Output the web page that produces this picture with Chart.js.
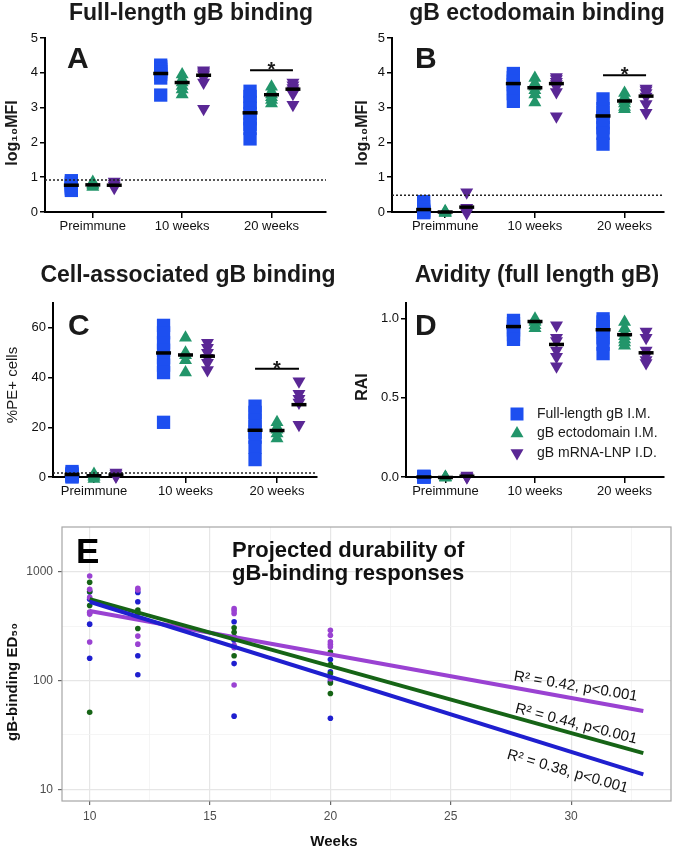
<!DOCTYPE html>
<html>
<head>
<meta charset="utf-8">
<script src="https://cdn.jsdelivr.net/npm/chart.js@4.4.1/dist/chart.umd.min.js"></script>
<style>
  body { margin: 0; background: #fff; width: 675px; height: 849px; position: relative; overflow: hidden; }
  canvas { position: absolute; }
</style>
</head>
<body>
<canvas id="cA" width="337" height="240" style="left:0;top:0"></canvas>
<canvas id="cB" width="338" height="240" style="left:337px;top:0"></canvas>
<canvas id="cC" width="337" height="260" style="left:0;top:240px"></canvas>
<canvas id="cD" width="338" height="260" style="left:337px;top:240px"></canvas>
<canvas id="cE" width="675" height="349" style="left:0;top:500px"></canvas>
<script>
const FONT = '"Liberation Sans", Arial, Helvetica, sans-serif';
Chart.defaults.font.family = FONT;

// shared categories / series
const groups = ["Preimmune", "10 weeks", "20 weeks"];
const seriesNames = ["Full-length gB I.M.", "gB ectodomain I.M.", "gB mRNA-LNP I.D."];
const dotColors = ["#1d4ff0", "#22956a", "#5a2795"];
const offsets = [-0.24, 0, 0.24];

// A: full-length gB binding (log10 MFI), per group: preimmune, 10 wk, 20 wk
const aFull = [[0.9, 0.85, 0.8, 0.76, 0.72, 0.67, 0.62], [4.22, 4.17, 4.1, 4.03, 3.96, 3.85, 3.36], [3.47, 3.32, 3.15, 2.98, 2.83, 2.68, 2.52, 2.4, 2.1]];
const aEcto = [[0.86, 0.8, 0.76, 0.72], [3.95, 3.82, 3.72, 3.62, 3.52, 3.38], [3.6, 3.46, 3.38, 3.3, 3.22, 3.12]];
const aMrna = [[0.88, 0.82, 0.76, 0.7], [4.07, 4.04, 3.99, 3.94, 3.86, 3.72, 2.97], [3.72, 3.64, 3.56, 3.5, 3.4, 3.08]];
const aMeans = [[0.77, 3.98, 2.85], [0.78, 3.72, 3.37], [0.77, 3.93, 3.53]];
const aCutoff = 0.92;
const aSig = 4.07;

// B: gB ectodomain binding
const bFull = [[0.3, 0.15, 0.05, 0, 0, -0.02], [3.98, 3.86, 3.76, 3.66, 3.55, 3.4, 3.18], [3.25, 2.97, 2.86, 2.72, 2.56, 2.42, 2.26, 1.95]];
const bEcto = [[0.02, 0, -0.02, -0.03], [3.85, 3.7, 3.6, 3.5, 3.38, 3.15], [3.42, 3.3, 3.2, 3.12, 3.02, 2.95]];
const bMrna = [[0.57, 0.12, 0.02, -0.03], [3.88, 3.82, 3.74, 3.68, 3.6, 3.45, 2.75], [3.55, 3.5, 3.42, 3.32, 3.1, 2.85]];
const bMeans = [[0.07, 3.69, 2.76], [0, 3.57, 3.19], [0.14, 3.69, 3.33]];
const bCutoff = 0.48;
const bSig = 3.93;

// C: cell-associated gB binding (%PE+ cells)
const cFull = [[2.2, 1.5, 1, 0.6, 0.3, 0], [61, 58, 54, 51, 48, 45, 42, 22], [28.5, 26, 23, 20.5, 18, 16, 12, 7]];
const cEcto = [[1.2, 0.5, 0, -0.8], [56, 50, 49, 47, 42], [22, 20, 19, 17.5, 15.5]];
const cMrna = [[1.8, 1.2, 0.5, 0.2], [54, 52, 50, 48, 46, 43], [38.5, 33.5, 31.5, 30, 21]];
const cMeans = [[1, 49.9, 18.8], [0.5, 49.1, 18.7], [0.8, 48.6, 29.1]];
const cCutoff = 1.6;
const cSig = 43.5;

// D: avidity (RAI)
const dFull = [[0.005, 0, 0, 0], [0.99, 0.97, 0.95, 0.93, 0.9, 0.87], [1.0, 0.98, 0.95, 0.92, 0.88, 0.84, 0.78]];
const dEcto = [[0, 0, -0.005], [1.0, 0.99, 0.98, 0.96, 0.94], [0.98, 0.94, 0.91, 0.89, 0.87, 0.85, 0.83]];
const dMrna = [[0.01, 0, 0], [0.96, 0.88, 0.86, 0.8, 0.76, 0.7], [0.92, 0.88, 0.8, 0.77, 0.74, 0.72]];
const dMeans = [[0, 0.951, 0.931], [-0.003, 0.983, 0.9], [0.005, 0.838, 0.785]];

// E: projected durability (ED50 by week)
const eWeeks = [10, 12, 16, 20];
const eFull = [[650, 560, 330, 160], [646, 530, 169, 113], [347, 235, 143, 47], [156, 120, 98, 45]];
const eEcto = [[800, 660, 490, 420, 51], [444, 420, 301], [305, 278, 252, 169], [183, 140, 116, 95, 76]];
const eMrna = [[913, 689, 581, 427, 408, 226], [703, 680, 256, 216], [460, 440, 414, 211, 200, 91], [290, 261, 227, 215, 204, 104]];
const eFitWeeks = [10, 33];
const eFitFull = [530, 13.7];
const eFitEcto = [561, 21.5];
const eFitMrna = [435, 52.5];
const eFitLabels = ["R² = 0.38, p<0.001", "R² = 0.44, p<0.001", "R² = 0.42, p<0.001"];
const eGridWeeks = [10, 12.5, 15, 17.5, 20, 22.5, 25, 27.5, 30, 32.5];
const eGridEd50 = [10, 31.6228, 100, 316.228, 1000];

function drawText(ctx, str, x, y, font, opts = {}) {
  ctx.save();
  ctx.font = font;
  ctx.fillStyle = opts.color || "#1a1a1a";
  ctx.textAlign = opts.align || "left";
  ctx.textBaseline = opts.baseline || "alphabetic";
  ctx.translate(x, y);
  if (opts.rotate) ctx.rotate(opts.rotate);
  ctx.fillText(str, 0, 0);
  ctx.restore();
}

function marker(ctx, s, x, y) {
  ctx.save();
  ctx.fillStyle = dotColors[s];
  ctx.beginPath();
  if (s === 0) {
    ctx.rect(x - 6.5, y - 6.5, 13, 13);
  } else if (s === 1) {
    ctx.moveTo(x, y - 7.5); ctx.lineTo(x + 6.5, y + 3.75); ctx.lineTo(x - 6.5, y + 3.75);
  } else {
    ctx.moveTo(x, y + 7.5); ctx.lineTo(x + 6.5, y - 3.75); ctx.lineTo(x - 6.5, y - 3.75);
  }
  ctx.fill();
  ctx.restore();
}

function dotPanel(id, spec) {
  const datasets = [];
  datasets.push({
    data: spec.means.flatMap((m, s) => m.map((v, g) => ({ x: g + offsets[s], y: v }))),
    pointStyle: "line", radius: 7.5, borderWidth: 3.5, borderColor: "#000", clip: false
  });
  if (spec.sig != null) {
    datasets.push({
      data: [{ x: 2 + offsets[0], y: spec.sig }, { x: 2 + offsets[2], y: spec.sig }],
      showLine: true, borderColor: "#000", borderWidth: 2, pointRadius: 0
    });
  }
  if (spec.cutoff != null) {
    datasets.push({
      data: [{ x: spec.xMin, y: spec.cutoff }, { x: spec.xMax, y: spec.cutoff }],
      showLine: true, borderColor: "#222", borderWidth: 1.5, borderDash: [2, 2], pointRadius: 0
    });
  }
  [2, 1, 0].forEach(s => {
    datasets.push({
      label: seriesNames[s],
      data: spec.series[s].flatMap((vals, g) => vals.map(v => ({ x: g + offsets[s], y: v }))),
      pointStyle: s === 0 ? "rect" : "triangle",
      rotation: s === 2 ? 180 : 0,
      radius: s === 0 ? 9.4 : 7.5,
      backgroundColor: dotColors[s], borderWidth: 0, clip: false
    });
  });

  new Chart(document.getElementById(id), {
    type: "scatter",
    data: { datasets },
    options: {
      responsive: false, animation: false, events: [],
      layout: { padding: spec.pad },
      plugins: { legend: { display: false }, tooltip: { enabled: false } },
      scales: {
        x: {
          type: "linear", min: spec.xMin, max: spec.xMax,
          afterBuildTicks: s => { s.ticks = [0, 1, 2].map(v => ({ value: v })); },
          afterFit: s => { s.height = 22; },
          ticks: { callback: v => groups[v], color: "#111", font: { size: 13 }, padding: 1, autoSkip: false, maxRotation: 0 },
          grid: { drawOnChartArea: false, tickLength: 6, color: "#000", lineWidth: 1.5 },
          border: { color: "#000", width: 2 }
        },
        y: {
          min: spec.yMin, max: spec.yMax,
          afterBuildTicks: s => { s.ticks = spec.yTicks.map(v => ({ value: v })); },
          afterFit: s => { s.width = 40; },
          ticks: { callback: spec.fmt, color: "#111", font: { size: 13 }, padding: 2 },
          grid: { drawOnChartArea: false, tickLength: 5, color: "#000", lineWidth: 1.5 },
          border: { color: "#000", width: 2 }
        }
      }
    },
    plugins: [{
      id: "deco",
      afterDraw(chart) {
        const ctx = chart.ctx;
        const t = spec.text;
        drawText(ctx, t.title[0], t.title[1], t.title[2], "bold 23px " + FONT, { align: "center" });
        drawText(ctx, t.letter[0], t.letter[1], t.letter[2], "bold 30px " + FONT);
        drawText(ctx, t.yTitle[0], t.yTitle[1], t.yTitle[2], t.yTitle[3] + " " + FONT,
          { align: "center", baseline: "middle", rotate: -Math.PI / 2 });
        if (spec.sig != null) {
          const x = chart.scales.x.getPixelForValue(2);
          const y = chart.scales.y.getPixelForValue(spec.sig);
          drawText(ctx, "*", x, y + 6, "bold 20px " + FONT, { align: "center" });
        }
        if (spec.legend) {
          const [lx, ly, gap] = spec.legend;
          seriesNames.forEach((name, s) => {
            marker(ctx, s, lx, ly + s * gap);
            drawText(ctx, name, lx + 20, ly + s * gap, "14px " + FONT, { baseline: "middle" });
          });
        }
      }
    }]
  });
}

dotPanel("cA", {
  series: [aFull, aEcto, aMrna], means: aMeans, cutoff: aCutoff, sig: aSig,
  xMin: -0.535, xMax: 2.61, yMin: 0, yMax: 5, yTicks: [0, 1, 2, 3, 4, 5], fmt: v => String(v),
  pad: { left: 5, right: 4, top: 38, bottom: 6 },
  text: { title: ["Full-length gB binding", 191, 20], letter: ["A", 67, 68], yTitle: ["log₁₀MFI", 13, 133, "bold 16px"] }
});

dotPanel("cB", {
  series: [bFull, bEcto, bMrna], means: bMeans, cutoff: bCutoff, sig: bSig,
  xMin: -0.593, xMax: 2.44, yMin: 0, yMax: 5, yTicks: [0, 1, 2, 3, 4, 5], fmt: v => String(v),
  pad: { left: 15, right: 7, top: 38, bottom: 6 },
  text: { title: ["gB ectodomain binding", 200, 20], letter: ["B", 78, 68], yTitle: ["log₁₀MFI", 26, 133, "bold 16px"] }
});

dotPanel("cC", {
  series: [cFull, cEcto, cMrna], means: cMeans, cutoff: cCutoff, sig: cSig,
  xMin: -0.448, xMax: 2.437, yMin: 0, yMax: 70, yTicks: [0, 20, 40, 60], fmt: v => String(v),
  pad: { left: 13, right: 20, top: 63, bottom: 1 },
  text: { title: ["Cell-associated gB binding", 188, 42], letter: ["C", 68, 95], yTitle: ["%PE+ cells", 13, 145, "15px"] }
});

dotPanel("cD", {
  series: [dFull, dEcto, dMrna], means: dMeans,
  xMin: -0.44, xMax: 2.44, yMin: 0, yMax: 1.1, yTicks: [0, 0.5, 1], fmt: v => v.toFixed(1),
  pad: { left: 29, right: 7, top: 63, bottom: 1 },
  legend: [180, 174, 19.5],
  text: { title: ["Avidity (full length gB)", 200, 42], letter: ["D", 78, 95], yTitle: ["RAI", 26, 147, "bold 16px"] }
});

// Panel E
const eColors = ["#1f1fcf", "#166416", "#9a42d2"];
const eSeries = [eFull, eEcto, eMrna];
const eFits = [eFitFull, eFitEcto, eFitMrna];
const eDatasets = [];
eFits.forEach((fit, s) => {
  eDatasets.push({
    data: eFitWeeks.map((w, i) => ({ x: w, y: fit[i] })),
    showLine: true, borderColor: eColors[s], borderWidth: 4, pointRadius: 0
  });
});
[2, 1, 0].forEach(s => {
  eDatasets.push({
    data: eSeries[s].flatMap((vals, i) => vals.map(v => ({ x: eWeeks[i], y: v }))),
    pointStyle: "circle", radius: 2.8, backgroundColor: eColors[s], borderWidth: 0
  });
});

new Chart(document.getElementById("cE"), {
  type: "scatter",
  data: { datasets: eDatasets },
  options: {
    responsive: false, animation: false, events: [],
    layout: { padding: { left: 4, right: 4, top: 27, bottom: 18 } },
    plugins: { legend: { display: false }, tooltip: { enabled: false } },
    scales: {
      x: {
        type: "linear", min: 8.85, max: 34.15,
        afterBuildTicks: s => { s.ticks = eGridWeeks.map(v => ({ value: v })); },
        afterFit: s => { s.height = 30; },
        ticks: { callback: v => (v % 5 === 0 ? String(v) : ""), color: "#4d4d4d", font: { size: 12 }, padding: 4, autoSkip: false, maxRotation: 0 },
        grid: {
          color: c => (c.tick && c.tick.value % 5 === 0 ? "#e6e6e6" : "#f3f3f3"),
          lineWidth: c => (c.tick && c.tick.value % 5 === 0 ? 1.2 : 0.8),
          tickColor: c => (c.tick && c.tick.value % 5 === 0 ? "#666" : "rgba(0,0,0,0)"),
          tickLength: 4
        },
        border: { display: false }
      },
      y: {
        type: "logarithmic", min: 7.8, max: 2580,
        afterBuildTicks: s => { s.ticks = eGridEd50.map(v => ({ value: v })); },
        afterFit: s => { s.width = 58; },
        ticks: { callback: v => ([10, 100, 1000].includes(v) ? String(v) : ""), color: "#4d4d4d", font: { size: 12 }, padding: 5, autoSkip: false },
        grid: {
          color: c => (c.tick && [10, 100, 1000].includes(c.tick.value) ? "#e6e6e6" : "#f3f3f3"),
          lineWidth: c => (c.tick && [10, 100, 1000].includes(c.tick.value) ? 1.2 : 0.8),
          tickColor: c => (c.tick && [10, 100, 1000].includes(c.tick.value) ? "#666" : "rgba(0,0,0,0)"),
          tickLength: 4
        },
        border: { display: false }
      }
    }
  },
  plugins: [{
    id: "decoE",
    afterDraw(chart) {
      const ctx = chart.ctx;
      const a = chart.chartArea;
      ctx.save();
      ctx.strokeStyle = "#a6a6a6";
      ctx.lineWidth = 1.2;
      ctx.strokeRect(a.left, a.top, a.right - a.left, a.bottom - a.top);
      ctx.restore();
      drawText(ctx, "E", 76, 63, "bold 35px " + FONT, { color: "#000" });
      drawText(ctx, "Projected durability of", 232, 57, "bold 22px " + FONT, { color: "#111" });
      drawText(ctx, "gB-binding responses", 232, 80, "bold 22px " + FONT, { color: "#111" });
      drawText(ctx, "gB-binding ED₅₀", 13, 182, "bold 15px " + FONT, { align: "center", baseline: "middle", rotate: -Math.PI / 2, color: "#111" });
      drawText(ctx, "Weeks", 334, 346, "bold 15px " + FONT, { align: "center", color: "#111" });
      const xs = chart.scales.x, ys = chart.scales.y;
      const shift = [20, -10, -12];
      eFits.forEach((fit, s) => {
        const x1 = xs.getPixelForValue(eFitWeeks[0]), y1 = ys.getPixelForValue(fit[0]);
        const x2 = xs.getPixelForValue(eFitWeeks[1]), y2 = ys.getPixelForValue(fit[1]);
        const ang = Math.atan2(y2 - y1, x2 - x1);
        const px = xs.getPixelForValue(30.1);
        const py = y1 + (y2 - y1) * (px - x1) / (x2 - x1);
        const cx = px - Math.sin(ang) * shift[s];
        const cy = py + Math.cos(ang) * shift[s];
        drawText(ctx, eFitLabels[s], cx, cy, "15px " + FONT, { align: "center", baseline: "middle", rotate: ang * 0.92, color: "#111" });
      });
    }
  }]
});
</script>
</body>
</html>
